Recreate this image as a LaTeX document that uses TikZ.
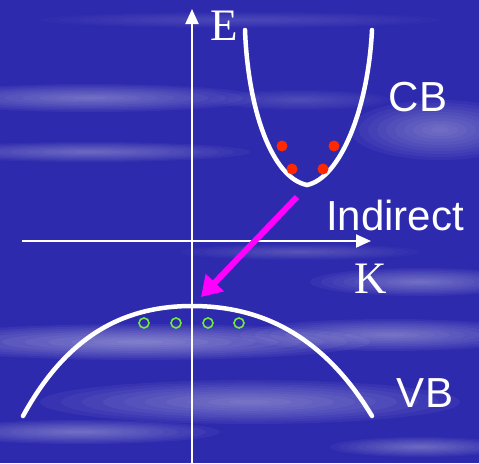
\documentclass[tikz,border=0pt]{standalone}
\usepackage{fontspec}
\setmainfont{Liberation Serif}
\setsansfont{Liberation Sans}
\usepackage{tikz}
\usetikzlibrary{positioning,arrows.meta,calc}

\definecolor{slideblue}{RGB}{46,42,174}
\definecolor{hotmagenta}{RGB}{255,0,255}
\definecolor{elecred}{RGB}{255,40,0}
\definecolor{holegreen}{RGB}{110,235,60}

\begin{document}
\begin{tikzpicture}[
  x=1pt, y=-1pt,
  band/.style={draw=white, line width=4.5pt, line cap=round},
  axis/.style={draw=white, line width=2pt, -{Triangle[length=15pt, width=13pt]}},
  serifl/.style={text=white, font=\fontsize{45}{50}\selectfont\rmfamily, inner sep=0pt},
  sansl/.style={text=white, font=\fontsize{42}{48}\selectfont\sffamily, inner sep=0pt},
  electron/.style={fill=elecred},
  hole/.style={draw=holegreen, line width=1.6pt},
  transition/.style={draw=hotmagenta, line width=6pt,
                     -{Triangle[length=20pt, width=24pt]}},
]
  % Background with soft streaks
  \fill[slideblue] (0,0) rectangle (479,463);
  \useasboundingbox (0,0) rectangle (479,463);
  \foreach \cx/\cy/\w/\h/\o in {90/98/170/14/0.2, 90/152/160/10/0.18,
      440/130/90/30/0.2, 140/342/230/18/0.25, 390/335/150/16/0.22,
      420/282/110/14/0.2, 250/402/210/22/0.22, 80/432/140/12/0.2,
      420/447/90/10/0.18, 300/252/120/8/0.12, 300/100/90/10/0.1,
      240/20/200/8/0.08}{
    \foreach \k in {1,...,10}{
      \fill[white, opacity=\o/5] (\cx,\cy) ellipse ({\w*\k/10} and {\h*\k/10});
    }
  }

  % Axes
  \coordinate (origin) at (192,241);
  \coordinate (ebot) at (192,463);
  \coordinate (etop) at (192,9);
  \coordinate (kleft) at (22,241);
  \coordinate (kright) at (371,241);
  \draw[axis] (ebot) -- (etop);
  \draw[axis] (kleft) -- (kright);
  \node[serifl] (elabel) at (224,26) {E};
  \node[serifl] (klabel) at (371,279) {K};

  % Conduction band
  \coordinate (cbmin) at (307,185);
  \draw[band] (245,30) .. controls (248,110) and (272,178) .. (cbmin)
              .. controls (340,178) and (368,110) .. (372,30);
  \node[sansl] (cb) at (418,97) {CB};

  % Electrons
  \foreach \px/\py in {282/146, 334/146, 292/169, 323/169}
    \fill[electron] (\px,\py) circle (5.5);

  % Valence band
  \coordinate (vbtop) at (192,306);
  \draw[band] (23,416) .. controls (70,330) and (130,306) .. (vbtop)
              .. controls (255,306) and (320,330) .. (372,416);
  \node[sansl] (vb) at (425,393) {VB};

  % Holes
  \foreach \px in {144, 176, 208, 239}
    \draw[hole] (\px,323) circle (5);

  % Indirect transition
  \node[sansl] (indirect) at (395,215) {Indirect};
  \coordinate (tstart) at (297,197);
  \coordinate (tend) at (201,297);
  \draw[transition] (tstart) -- (tend);
\end{tikzpicture}
\end{document}
